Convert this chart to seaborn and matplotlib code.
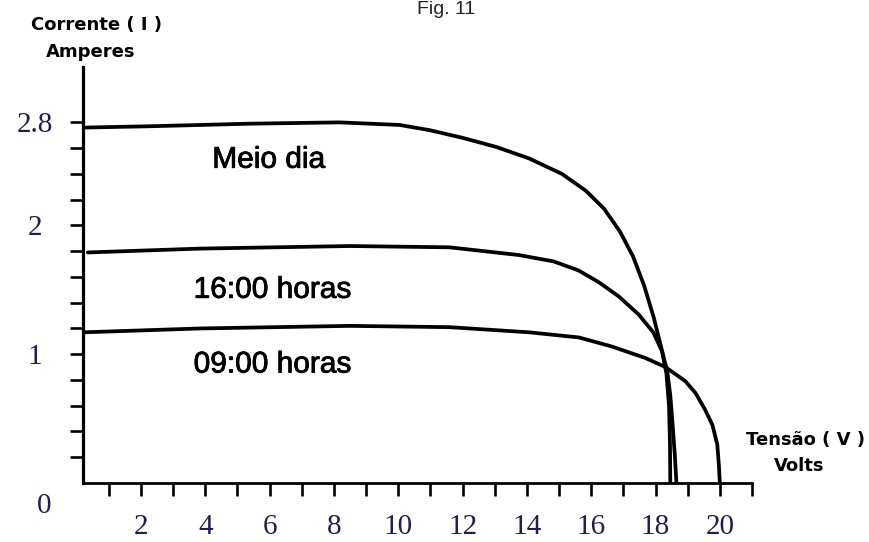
import numpy as np
import pandas as pd
import matplotlib
matplotlib.use("Agg")
import matplotlib.pyplot as plt
import matplotlib.patheffects as PathEffects
import seaborn as sns

# I-V curves (volts, amperes)
v_meio_dia = [0.29, 2.30, 5.40, 8.18, 10.04, 10.97, 12.00, 13.04, 14.07, 15.09, 15.83,
              16.40, 16.90, 17.30, 17.65, 17.95, 18.18, 18.34, 18.42, 18.45, 18.46]
i_meio_dia = [2.76, 2.77, 2.79, 2.80, 2.78, 2.74, 2.68, 2.61, 2.52, 2.40, 2.27,
              2.13, 1.95, 1.76, 1.53, 1.28, 1.05, 0.85, 0.60, 0.30, 0.0]

v_16h = [0.35, 3.85, 8.49, 11.59, 13.75, 14.84, 15.61, 16.23, 16.85, 17.47, 17.93,
         18.21, 18.37, 18.46, 18.52, 18.60, 18.65]
i_16h = [1.79, 1.82, 1.84, 1.83, 1.77, 1.72, 1.65, 1.56, 1.45, 1.31, 1.17,
         1.02, 0.86, 0.68, 0.49, 0.22, 0.0]

v_09h = [0.23, 3.85, 8.49, 11.59, 14.07, 15.62, 16.64, 17.69, 18.31, 18.93, 19.24,
         19.54, 19.77, 19.92, 19.97, 20.0]
i_09h = [1.17, 1.20, 1.22, 1.21, 1.17, 1.13, 1.06, 0.97, 0.90, 0.79, 0.70,
         0.57, 0.45, 0.30, 0.14, 0.0]

curve_names = ["Meio dia", "16:00 horas", "09:00 horas"]

x_ticks = list(range(1, 22))
x_labels = [str(v) if v % 2 == 0 and v <= 20 else "" for v in x_ticks]
y_ticks = [round(0.2 * k, 1) for k in range(1, 15)]
y_labels = {1.0: "1", 2.0: "2", 2.8: "2.8"}

frames = []
for name, v, i in zip(curve_names, [v_meio_dia, v_16h, v_09h], [i_meio_dia, i_16h, i_09h]):
    frames.append(pd.DataFrame({"tensao": v, "corrente": i, "curva": name}))
df = pd.concat(frames, ignore_index=True)

sns.set_style("white")
plt.rcParams["font.family"] = ["DejaVu Sans"]

fig = plt.figure(figsize=(8.7, 5.42), dpi=100)
ax = fig.add_axes([83 / 870, 1 - 483 / 542, (752 - 83) / 870, (483 - 67) / 542])

sns.lineplot(data=df, x="tensao", y="corrente", units="curva", estimator=None,
             color="black", linewidth=2.7, sort=False, ax=ax,
             solid_joinstyle="round", solid_capstyle="round")

ax.set_xlim(0.2, 21.0)
ax.set_ylim(0, 3.23)
ax.set_xlabel("")
ax.set_ylabel("")

for side in ["top", "right"]:
    ax.spines[side].set_visible(False)
for side in ["left", "bottom"]:
    ax.spines[side].set_color("black")
ax.spines["left"].set_linewidth(2.3)
ax.spines["bottom"].set_linewidth(2.0)

num_color = "#1f1f4f"
ax.set_xticks(x_ticks)
ax.set_xticklabels(x_labels, family="Liberation Serif", fontsize=21, color=num_color)
ax.set_yticks(y_ticks)
ax.set_yticklabels([y_labels.get(t, "") for t in y_ticks], family="Liberation Serif",
                   fontsize=21, color=num_color, ha="center")
ax.tick_params(axis="x", bottom=True, direction="out", length=9, width=1.9,
               color="black", pad=13)
ax.tick_params(axis="y", left=True, direction="out", length=9.5, width=1.9,
               color="black", pad=25)

# curve labels
stroke = [PathEffects.withStroke(linewidth=0.6, foreground="black")]
lab = dict(fontsize=21.5, color="black", family="Liberation Sans", path_effects=stroke)
ax.text(4.22, 2.51, "Meio dia", va="center", ha="left", **lab)
ax.text(3.64, 1.50, "16:00 horas", va="center", ha="left", **lab)
ax.text(3.64, 0.92, "09:00 horas", va="center", ha="left", **lab)

# axis titles
bold = dict(fontsize=13, fontweight="bold", color="black", ha="center", va="center")
fig.text(97 / 870, 1 - 25 / 542, "Corrente ( I )", **bold)
fig.text(91 / 870, 1 - 52 / 542, "Amperes", **bold)
fig.text(806 / 870, 1 - 440 / 542, "Tensão ( V )", **bold)
fig.text(799 / 870, 1 - 466 / 542, "Volts", **bold)

fig.text(44 / 870, 1 - 506 / 542, "0", family="Liberation Serif", fontsize=21,
         color=num_color, ha="center", va="center")
fig.text(475 / 870, 1 - 14 / 542, "Fig. 11", family="Liberation Sans", fontsize=14,
         color="#222222", ha="right", va="baseline")

fig.savefig("out.png", dpi=100, facecolor="white")
